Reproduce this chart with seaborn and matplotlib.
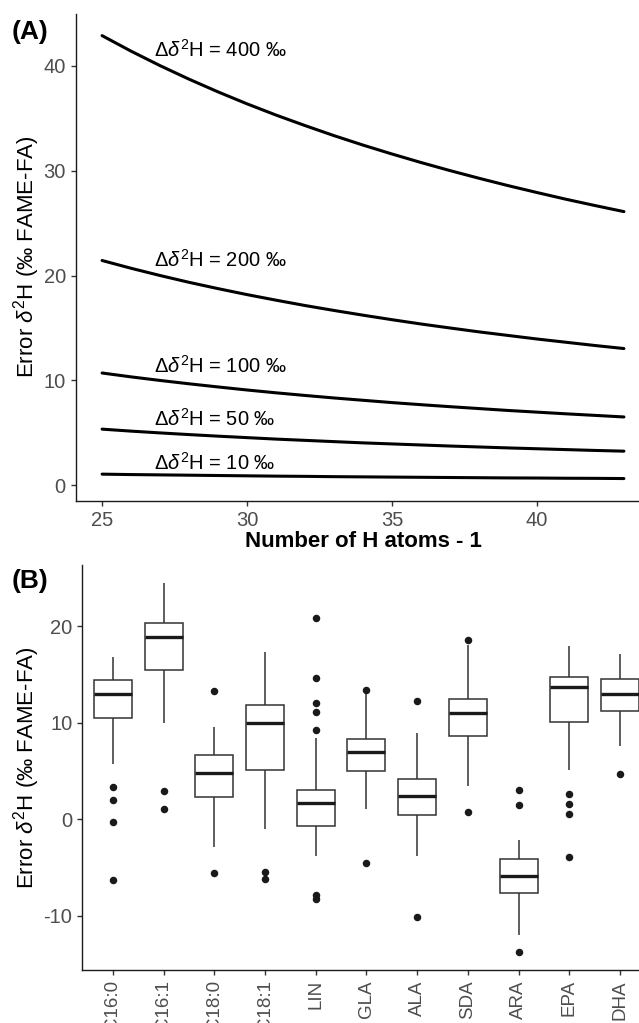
import numpy as np
import pandas as pd
import matplotlib
matplotlib.use("Agg")
import matplotlib.pyplot as plt
import seaborn as sns

# ---------------- data ----------------
# Panel A: error in delta2H of the fatty acid vs number of H atoms, per offset
n_h_atoms = [25, 26, 27, 28, 29, 30, 31, 32, 33, 34, 35, 36, 37, 38, 39, 40, 41, 42, 43]
offsets = [400, 200, 100, 50, 10]
err_400 = [42.86, 41.38, 40.00, 38.71, 37.50, 36.36, 35.29, 34.29, 33.33, 32.43,
           31.58, 30.77, 30.00, 29.27, 28.57, 27.91, 27.27, 26.67, 26.09]
err_200 = [21.43, 20.69, 20.00, 19.35, 18.75, 18.18, 17.65, 17.14, 16.67, 16.22,
           15.79, 15.38, 15.00, 14.63, 14.29, 13.95, 13.64, 13.33, 13.04]
err_100 = [10.71, 10.34, 10.00, 9.68, 9.38, 9.09, 8.82, 8.57, 8.33, 8.11,
           7.89, 7.69, 7.50, 7.32, 7.14, 6.98, 6.82, 6.67, 6.52]
err_50 = [5.36, 5.17, 5.00, 4.84, 4.69, 4.55, 4.41, 4.29, 4.17, 4.05,
          3.95, 3.85, 3.75, 3.66, 3.57, 3.49, 3.41, 3.33, 3.26]
err_10 = [1.07, 1.03, 1.00, 0.97, 0.94, 0.91, 0.88, 0.86, 0.83, 0.81,
          0.79, 0.77, 0.75, 0.73, 0.71, 0.70, 0.68, 0.67, 0.65]
label_y = [41.5, 21.5, 11.4, 6.3, 2.1]

# Panel B: observed errors per fatty acid
fatty_acids = ["C16:0", "C16:1", "C18:0", "C18:1", "LIN", "GLA",
               "ALA", "SDA", "ARA", "EPA", "DHA"]
err_c16_0 = [-6.27, -0.24, 1.97, 3.4, 5.76, 8.2, 10.5, 11.1, 11.6, 12.0, 12.4, 12.8, 13.0,
             13.2, 13.5, 13.8, 14.0, 14.2, 14.4, 14.7, 15.0, 15.4, 15.8, 16.3, 16.8]
err_c16_1 = [1.03, 2.9, 9.97, 12.0, 13.6, 14.8, 15.48, 16.2, 17.0, 17.6, 18.1, 18.6, 18.93,
             19.2, 19.5, 19.8, 20.0, 20.2, 20.3, 20.8, 21.4, 22.1, 22.9, 23.6, 24.45]
err_c18_0 = [-5.6, -2.85, -0.9, 0.4, 1.2, 1.9, 2.3, 2.8, 3.3, 3.8, 4.2, 4.5, 4.8,
             5.2, 5.6, 5.9, 6.2, 6.45, 6.66, 7.1, 7.6, 8.2, 8.8, 9.55, 13.3]
err_c18_1 = [-6.17, -5.48, -0.96, 1.5, 3.2, 4.4, 5.14, 6.2, 7.3, 8.2, 9.0, 9.6, 10.03,
             10.4, 10.8, 11.1, 11.4, 11.65, 11.86, 12.6, 13.5, 14.4, 15.3, 16.2, 17.3]
err_lin = [-8.3, -7.79, -3.83, -2.6, -1.8, -1.2, -0.69, -0.2, 0.3, 0.7, 1.1, 1.4, 1.7,
           2.0, 2.3, 2.5, 2.7, 2.85, 3.0, 8.42, 9.28, 11.14, 12.1, 14.65, 20.83]
err_gla = [-4.55, 1.1, 2.3, 3.2, 3.9, 4.5, 4.97, 5.5, 5.9, 6.3, 6.6, 6.85, 7.03,
           7.3, 7.55, 7.8, 8.0, 8.15, 8.31, 9.0, 10.0, 11.2, 12.3, 13.1, 13.4]
err_ala = [-10.1, -3.83, -2.5, -1.3, -0.5, 0.1, 0.45, 0.9, 1.3, 1.7, 2.0, 2.25, 2.45,
           2.8, 3.1, 3.5, 3.8, 4.0, 4.21, 4.9, 5.8, 6.8, 7.9, 8.93, 12.24]
err_sda = [0.72, 3.48, 5.2, 6.5, 7.5, 8.2, 8.69, 9.3, 9.8, 10.2, 10.6, 10.85, 11.07,
           11.3, 11.6, 11.9, 12.1, 12.3, 12.48, 13.3, 14.4, 15.6, 16.9, 18.07, 18.58]
err_ara = [-13.7, -12.0, -10.6, -9.4, -8.6, -8.0, -7.6, -7.2, -6.9, -6.6, -6.3, -6.1, -5.9,
           -5.6, -5.3, -4.9, -4.6, -4.3, -4.1, -3.6, -3.0, -2.5, -2.1, 1.52, 3.04]
err_epa = [-3.93, 0.56, 1.59, 2.62, 5.07, 7.8, 10.1, 11.0, 11.9, 12.6, 13.1, 13.45, 13.69,
           13.9, 14.1, 14.3, 14.45, 14.6, 14.72, 15.2, 15.7, 16.3, 16.9, 17.5, 18.0]
err_dha = [4.65, 7.65, 8.9, 9.8, 10.5, 10.95, 11.24, 11.6, 12.0, 12.3, 12.6, 12.8, 13.0,
           13.3, 13.6, 13.9, 14.2, 14.4, 14.58, 15.0, 15.4, 15.9, 16.4, 16.8, 17.17]

# ---------------- tables ----------------
curve_series = [err_400, err_200, err_100, err_50, err_10]
df_a = pd.concat(
    [pd.DataFrame({"n": n_h_atoms, "err": s, "offset": o})
     for s, o in zip(curve_series, offsets)],
    ignore_index=True,
)
box_series = [err_c16_0, err_c16_1, err_c18_0, err_c18_1, err_lin, err_gla,
              err_ala, err_sda, err_ara, err_epa, err_dha]
df_b = pd.concat(
    [pd.DataFrame({"fa": fa, "err": s}) for fa, s in zip(fatty_acids, box_series)],
    ignore_index=True,
)

# ---------------- style ----------------
sns.set_theme(style="ticks")
plt.rcParams["font.family"] = ["Liberation Sans", "DejaVu Sans"]
plt.rcParams["mathtext.fontset"] = "custom"
plt.rcParams["mathtext.rm"] = "Liberation Sans"
plt.rcParams["mathtext.it"] = "Liberation Sans:italic"
plt.rcParams["mathtext.bf"] = "Liberation Sans:bold"
plt.rcParams["axes.unicode_minus"] = False

TICK_TXT = "#4D4D4D"
TICK_LN = "#333333"
AXIS_LN = "#1a1a1a"
YLABEL = "Error $\\delta^{2}$H (‰ FAME-FA)"

W, H = 639, 1023
fig = plt.figure(figsize=(W / 100, H / 100), dpi=100)


def px_axes(left, top, right, bottom):
    return fig.add_axes([left / W, 1 - bottom / H, (right - left) / W, (bottom - top) / H])


def style_axes(ax):
    sns.despine(ax=ax)
    for side in ("left", "bottom"):
        ax.spines[side].set_color(AXIS_LN)
        ax.spines[side].set_linewidth(1.0)
    ax.tick_params(axis="both", length=3.8, width=1.0, color=TICK_LN,
                   labelcolor=TICK_TXT, labelsize=14.5, pad=3.5)
    ax.set_facecolor("white")


# ---------------- panel A ----------------
ax_a = px_axes(76, 13.5, 650, 500.7)
sns.lineplot(data=df_a, x="n", y="err", units="offset", estimator=None,
             color="black", linewidth=2.2, ax=ax_a, legend=False)
for o, yl in zip(offsets, label_y):
    ax_a.text(26.78, yl, "Δ$\\delta^{2}$H = %d ‰" % o, ha="left", va="center",
              fontsize=14.5, color="black")
ymin_a, ymax_a = min(err_10), max(err_400)
pad_a = 0.05 * (ymax_a - ymin_a)
ax_a.set_xlim(25 - 0.9, 43 + 0.9)
ax_a.set_ylim(ymin_a - pad_a, ymax_a + pad_a)
ax_a.set_xticks([25, 30, 35, 40])
ax_a.set_yticks([0, 10, 20, 30, 40])
ax_a.set_xlabel("Number of H atoms - 1", fontsize=16, fontweight="bold",
                color="black", labelpad=1)
ax_a.set_ylabel("")
style_axes(ax_a)

# ---------------- panel B ----------------
ax_b = px_axes(82.4, 565, 650.5, 970)
sns.boxplot(data=df_b, x="fa", y="err", order=fatty_acids, ax=ax_b,
            width=0.75, color="white", linecolor=TICK_LN, linewidth=1.1,
            showcaps=False, whis=1.5, fliersize=4.4,
            flierprops=dict(marker="o", markerfacecolor="#1a1a1a",
                            markeredgecolor="#1a1a1a"),
            medianprops=dict(linewidth=2.4, color="#1a1a1a"))
all_b = np.concatenate([np.asarray(s) for s in box_series])
pad_b = 0.05 * (all_b.max() - all_b.min())
ax_b.set_ylim(all_b.min() - pad_b, all_b.max() + pad_b)
ax_b.set_xlim(-0.6, len(fatty_acids) - 0.4)
ax_b.set_yticks([-10, 0, 10, 20])
ax_b.set_xlabel("")
ax_b.set_ylabel("")
style_axes(ax_b)
ax_b.tick_params(axis="x", labelsize=13.5)
plt.setp(ax_b.get_xticklabels(), rotation=90, ha="center", va="top")

# ---------------- shared labels and tags ----------------
fig.text(27 / W, 1 - 257 / H, YLABEL, rotation=90, ha="center", va="center",
         fontsize=16, color="black")
fig.text(27 / W, 1 - 767.5 / H, YLABEL, rotation=90, ha="center", va="center",
         fontsize=16, color="black")
fig.text(12 / W, 1 - 32 / H, "(A)", ha="left", va="center", fontsize=19,
         fontweight="bold", color="black")
fig.text(12 / W, 1 - 581 / H, "(B)", ha="left", va="center", fontsize=19,
         fontweight="bold", color="black")

fig.savefig("out.png", dpi=100, facecolor="white")
